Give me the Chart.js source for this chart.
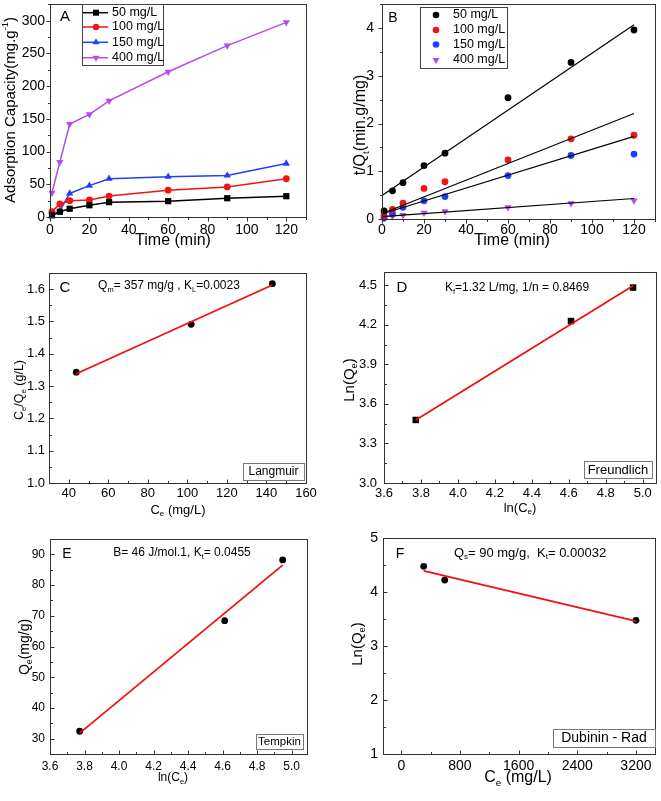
<!DOCTYPE html>
<html>
<head>
<meta charset="utf-8">
<script src="https://cdn.jsdelivr.net/npm/chart.js@4.4.1/dist/chart.umd.min.js"></script>
<style>
  html, body { margin: 0; padding: 0; background: #fff; }
  #fig { position: relative; width: 661px; height: 801px; overflow: hidden; }
  #fig canvas { position: absolute; }
</style>
</head>
<body>
<div id="fig"></div>
<script>
// ---- data ----
// A / B : kinetics
const timeMin = [1, 5, 10, 20, 30, 60, 90, 120];
const seriesNames = ['50 mg/L', '100 mg/L', '150 mg/L', '400 mg/L'];
const qt50  = [3, 8, 12.6, 18, 22.7, 24.2, 28.7, 31.8];
const qt100 = [8, 20, 25, 26, 32, 41, 46, 58.5];
const qt150 = [1, 9.6, 36, 48, 58.5, 61.5, 63.5, 81.7];
const qt400 = [37, 84, 142, 157, 177.5, 222, 262, 297.5];

const tq50  = [0.17, 0.59, 0.76, 1.12, 1.38, 2.54, 3.28, 3.96];
const tq100 = [0.08, 0.2, 0.33, 0.64, 0.78, 1.24, 1.68, 1.755];
const tq150 = [0.02, 0.11, 0.245, 0.38, 0.47, 0.91, 1.33, 1.36];
const tq400 = [0.02, 0.055, 0.08, 0.13, 0.16, 0.245, 0.33, 0.385];
const fitT0 = [0, 120];
const fitT1 = [1, 120];
const fit50  = [0.49, 4.07];
const fit100 = [0.13, 2.21];
const fit150 = [0.12, 1.73];
const fit400 = [0.05, 0.43];

// C : Langmuir
const langCe = [43.8, 101.9, 143];
const langRatio = [1.343, 1.491, 1.617];
const langFitCe = [43.8, 143];
const langFit = [1.338, 1.613];
// D : Freundlich
const lnCe = [3.772, 4.612, 4.948];
const freLnQe = [3.478, 4.228, 4.482];
const freFitX = [3.772, 4.948];
const freFitY = [3.478, 4.495];
// E : Tempkin
const temQe = [32.4, 68.4, 88.2];
const temFitX = [3.772, 4.948];
const temFitY = [31.8, 86.5];
// F : Dubinin - Rad
const drCe = [305, 592, 3200];
const drLnQe = [4.475, 4.22, 3.475];
const drFitX = [305, 3200];
const drFitY = [4.39, 3.46];

// tick labels
const timeTicks = [0, 20, 40, 60, 80, 100, 120];
const aTicksY = [0, 50, 100, 150, 200, 250, 300];
const bTicksY = [0, 1, 2, 3, 4];
const cTicksX = [40, 60, 80, 100, 120, 140, 160];
const cTicksY = [1.0, 1.1, 1.2, 1.3, 1.4, 1.5, 1.6];
const lnTicksX = [3.6, 3.8, 4.0, 4.2, 4.4, 4.6, 4.8, 5.0];
const dTicksY = [3.0, 3.3, 3.6, 3.9, 4.2, 4.5];
const eTicksY = [30, 40, 50, 60, 70, 80, 90];
const fTicksX = [0, 800, 1600, 2400, 3200];
const fTicksY = [1, 2, 3, 4, 5];

// ---- styling ----
const FONT = "'Liberation Sans', Arial, sans-serif";
const kinColors = ['#000000', '#f01414', '#1f3fff', '#b44af0'];
const RED = '#f01010';

const pts = (xs, ys) => xs.map((x, i) => ({ x: x, y: ys[i] }));
const font = s => s + 'px ' + FONT;

function richWidth(ctx, parts, size) {
  let w = 0;
  parts.forEach(p => {
    const t = Array.isArray(p) ? p[0] : p, k = Array.isArray(p) ? p[1] : null;
    ctx.font = font(k ? size * 0.62 : size);
    w += ctx.measureText(t).width;
  });
  return w;
}

function drawRich(ctx, parts, size, x, y, rot) {
  ctx.save();
  ctx.translate(x, y);
  if (rot) ctx.rotate(-Math.PI / 2);
  ctx.textBaseline = 'middle';
  ctx.textAlign = 'left';
  ctx.fillStyle = '#000';
  let cx = -richWidth(ctx, parts, size) / 2;
  parts.forEach(p => {
    const t = Array.isArray(p) ? p[0] : p, k = Array.isArray(p) ? p[1] : null;
    ctx.font = font(k ? size * 0.62 : size);
    const dy = k === 'sub' ? size * 0.32 : (k === 'sup' ? -size * 0.36 : 0);
    ctx.fillText(t, cx, dy);
    cx += ctx.measureText(t).width;
  });
  ctx.restore();
}

function drawMarker(ctx, style, x, y, r, color) {
  ctx.fillStyle = color;
  ctx.beginPath();
  if (style === 'rect') {
    ctx.rect(x - r, y - r, 2 * r, 2 * r);
  } else if (style === 'tri' || style === 'triDown') {
    const s = style === 'tri' ? 1 : -1;
    ctx.moveTo(x, y - s * r);
    ctx.lineTo(x + r * 0.866, y + s * r * 0.5);
    ctx.lineTo(x - r * 0.866, y + s * r * 0.5);
    ctx.closePath();
  } else {
    ctx.arc(x, y, r, 0, Math.PI * 2);
  }
  ctx.fill();
}

// frame, ticks, titles, notes, boxes, legend
function makeDecor(cfg) {
  return {
    id: 'decor',
    afterDraw(chart) {
      const ctx = chart.ctx, a = chart.chartArea;
      const L = Math.round(a.left) + 0.5, R = Math.round(a.right) + 0.5;
      const T = Math.round(a.top) + 0.5, B = Math.round(a.bottom) + 0.5;
      ctx.save();
      ctx.strokeStyle = '#333';
      ctx.lineWidth = 1;
      ctx.strokeRect(L, T, R - L, B - T);
      const sgn = cfg.tickDir === 'out' ? 1 : -1;
      ['x', 'y'].forEach(id => {
        const sc = chart.scales[id];
        const majors = sc.ticks.map(t => t.value);
        const marks = majors.map(v => [v, 4]);
        const st = cfg.minor[id];
        for (let v = majors[0] - st; v >= sc.min - 1e-9; v -= st) marks.push([v, 2.5]);
        for (let v = majors[0] + st; v <= sc.max + 1e-9; v += st) {
          if (!majors.some(m => Math.abs(m - v) < st / 10)) marks.push([v, 2.5]);
        }
        ctx.beginPath();
        marks.forEach(m => {
          const p = Math.round(sc.getPixelForValue(m[0])) + 0.5;
          if (id === 'x') { ctx.moveTo(p, B); ctx.lineTo(p, B + sgn * m[1]); }
          else { ctx.moveTo(L, p); ctx.lineTo(L - sgn * m[1], p); }
        });
        ctx.stroke();
      });

      ctx.translate(-cfg.origin[0], -cfg.origin[1]);
      (cfg.texts || []).forEach(t => drawRich(ctx, t.parts, t.size, t.x, t.y, t.rot));

      if (cfg.box) {
        const b = cfg.box;
        ctx.fillStyle = '#fff';
        ctx.fillRect(b.x1, b.y1, b.x2 - b.x1, b.y2 - b.y1);
        ctx.strokeStyle = '#777';
        ctx.strokeRect(b.x1 + 0.5, b.y1 + 0.5, b.x2 - b.x1, b.y2 - b.y1);
        drawRich(ctx, [b.text], b.size, (b.x1 + b.x2) / 2, (b.y1 + b.y2) / 2 + 0.5, false);
      }

      if (cfg.legend) {
        const g = cfg.legend;
        ctx.fillStyle = '#fff';
        ctx.fillRect(g.x1, g.y1, g.x2 - g.x1, g.y2 - g.y1);
        ctx.strokeStyle = '#444';
        ctx.strokeRect(g.x1 + 0.5, g.y1 + 0.5, g.x2 - g.x1, g.y2 - g.y1);
        seriesNames.forEach((name, i) => {
          const y = g.rows[i];
          if (g.line) {
            ctx.strokeStyle = kinColors[i];
            ctx.lineWidth = 1.5;
            ctx.beginPath();
            ctx.moveTo(g.line[0], y);
            ctx.lineTo(g.line[1], y);
            ctx.stroke();
          }
          drawMarker(ctx, g.styles[i], g.mx, y, g.radii[i], kinColors[i]);
          ctx.fillStyle = '#000';
          ctx.font = font(g.size);
          ctx.textAlign = 'left';
          ctx.textBaseline = 'middle';
          ctx.fillText(name, g.tx, y);
        });
      }
      ctx.restore();
    }
  };
}

function axis(min, max, values, size, pad, dec) {
  return {
    type: 'linear', min: min, max: max,
    grid: { display: false, drawTicks: false },
    border: { display: false },
    afterBuildTicks: sc => { sc.ticks = values.map(v => ({ value: v })); },
    ticks: {
      font: { family: FONT, size: size }, color: '#000', padding: pad,
      autoSkip: false, maxRotation: 0,
      callback: v => dec == null ? String(v) : Number(v).toFixed(dec)
    }
  };
}

function panel(origin, size, plot, datasets, sx, sy, cfg) {
  const cv = document.createElement('canvas');
  cv.width = size[0];
  cv.height = size[1];
  cv.style.left = origin[0] + 'px';
  cv.style.top = origin[1] + 'px';
  document.getElementById('fig').appendChild(cv);
  const yw = plot[0] - origin[0];
  const xh = origin[1] + size[1] - plot[3];
  // fixed axis boxes, no label overhang, so the plot area lands where the figure has it
  sx.afterFit = s => { s.height = xh; s.paddingLeft = 0; s.paddingRight = 0; s.paddingTop = 0; s.paddingBottom = 0; };
  sy.afterFit = s => { s.width = yw; s.paddingLeft = 0; s.paddingRight = 0; s.paddingTop = 0; s.paddingBottom = 0; };
  cfg.origin = origin;
  return new Chart(cv, {
    type: 'scatter',
    data: { datasets: datasets },
    options: {
      responsive: false,
      animation: false,
      layout: { padding: { top: plot[1] - origin[1], right: origin[0] + size[0] - plot[2], left: 0, bottom: 0 } },
      plugins: { legend: { display: false }, tooltip: { enabled: false } },
      scales: { x: sx, y: sy }
    },
    plugins: [makeDecor(cfg)]
  });
}

function fitLine(xs, ys, color, w) {
  return { data: pts(xs, ys), showLine: true, borderColor: color, borderWidth: w, pointRadius: 0, clip: false };
}
function dots(xs, ys, color, style, r, rot) {
  return { data: pts(xs, ys), showLine: false, pointStyle: style, pointRadius: r, pointRotation: rot || 0,
           pointBackgroundColor: color, pointBorderWidth: 0, clip: false };
}

// ---- A ----
const kinA = [qt50, qt100, qt150, qt400];
const aStyles = ['rect', 'circle', 'triangle', 'triangle'];
const aRadius = [4.4, 3.4, 4.2, 4.2];
panel([0, 0], [330, 262], [50, 3, 306, 217],
  kinA.map((ys, i) => ({
    data: pts(timeMin, ys), showLine: true, borderColor: kinColors[i], borderWidth: 1.5,
    pointStyle: aStyles[i], pointRadius: aRadius[i], pointRotation: i === 3 ? 180 : 0,
    pointBackgroundColor: kinColors[i], pointBorderWidth: 0, clip: false
  })),
  axis(0, 130, timeTicks, 14, 5), axis(0, 325, aTicksY, 14, 5),
  {
    tickDir: 'out', minor: { x: 10, y: 25 },
    texts: [
      { parts: ['A'], size: 15, x: 65, y: 17 },
      { parts: ['Time (min)'], size: 16, x: 173, y: 241 },
      { parts: ['Adsorption Capacity(mg.g', ['-1', 'sup'], ')'], size: 15, x: 11, y: 110, rot: true }
    ],
    legend: { x1: 82, y1: 4, x2: 163, y2: 65, rows: [12.7, 27, 42.3, 57.7], line: [83, 108], mx: 96, tx: 112,
              size: 12.5, styles: ['rect', 'circle', 'tri', 'triDown'], radii: [3, 3.2, 4, 4] }
  });

// ---- B ----
const kinB = [tq50, tq100, tq150, tq400];
panel([330, 0], [331, 262], [382, 4, 655, 219],
  [
    fitLine(fitT0, fit50, '#000', 1.2), fitLine(fitT1, fit100, '#000', 1.2),
    fitLine(fitT1, fit150, '#000', 1.2), fitLine(fitT0, fit400, '#000', 1.2)
  ].concat(kinB.map((ys, i) => dots(timeMin, ys, kinColors[i], i === 3 ? 'triangle' : 'circle', i === 3 ? 4.2 : 3.4, i === 3 ? 180 : 0))),
  axis(0, 130, timeTicks, 14, 3), axis(0, 4.5, bTicksY, 14, 8),
  {
    tickDir: 'out', minor: { x: 10, y: 0.5 },
    texts: [
      { parts: ['B'], size: 14, x: 393, y: 18 },
      { parts: ['Time (min)'], size: 16, x: 512, y: 241 },
      { parts: ['t/Q', ['t', 'sub'], '(min.g/mg)'], size: 16, x: 361, y: 125, rot: true }
    ],
    legend: { x1: 420, y1: 7, x2: 507, y2: 68, rows: [15, 30, 44.5, 60], line: null, mx: 436, tx: 453,
              size: 12.5, styles: ['circle', 'circle', 'circle', 'triDown'], radii: [3.3, 3.3, 3.3, 4] }
  });

// ---- C ----
panel([0, 262], [330, 268], [49, 273, 306, 483],
  [fitLine(langFitCe, langFit, RED, 1.8), dots(langCe, langRatio, '#000', 'circle', 3.4)],
  axis(30, 160, cTicksX, 13, 3), axis(1.0, 1.65, cTicksY, 13, 4, 1),
  {
    tickDir: 'in', minor: { x: 10, y: 0.05 },
    texts: [
      { parts: ['C'], size: 15, x: 65, y: 288 },
      { parts: ['Q', ['m', 'sub'], '= 357 mg/g , K', ['L', 'sub'], '=0.0023'], size: 12, x: 169, y: 286 },
      { parts: ['C', ['e', 'sub'], ' (mg/L)'], size: 13, x: 178, y: 510 },
      { parts: ['C', ['e', 'sub'], '/Q', ['e', 'sub'], ' (g/L)'], size: 12.5, x: 20, y: 390, rot: true }
    ],
    box: { text: 'Langmuir', x1: 243, y1: 463, x2: 304, y2: 480, size: 12 }
  });

// ---- D ----
panel([330, 262], [331, 268], [384, 272, 656, 483],
  [fitLine(freFitX, freFitY, RED, 1.8), dots(lnCe, freLnQe, '#000', 'rect', 4.6)],
  axis(3.6, 5.072, lnTicksX, 13, 3, 1), axis(3.0, 4.6, dTicksY, 13, 7, 1),
  {
    tickDir: 'in', minor: { x: 0.1, y: 0.15 },
    texts: [
      { parts: ['D'], size: 15, x: 402, y: 288 },
      { parts: ['K', ['f', 'sub'], '=1.32 L/mg, 1/n = 0.8469'], size: 12, x: 517, y: 288 },
      { parts: ['ln(C', ['e', 'sub'], ')'], size: 13, x: 520, y: 508 },
      { parts: ['Ln(Q', ['e', 'sub'], ')'], size: 15, x: 350, y: 380, rot: true }
    ],
    box: { text: 'Freundlich', x1: 584, y1: 461, x2: 652, y2: 478, size: 13 }
  });

// ---- E ----
panel([0, 530], [330, 271], [50, 539, 307, 754],
  [fitLine(temFitX, temFitY, RED, 1.8), dots(lnCe, temQe, '#000', 'circle', 3.4)],
  axis(3.6, 5.089, lnTicksX, 12, 5, 1), axis(25, 95, eTicksY, 12, 5),
  {
    tickDir: 'in', minor: { x: 0.1, y: 5 },
    texts: [
      { parts: ['E'], size: 14, x: 67, y: 554 },
      { parts: ['B= 46 J/mol.1, K', ['t', 'sub'], '= 0.0455'], size: 12, x: 182, y: 553 },
      { parts: ['ln(C', ['e', 'sub'], ')'], size: 12, x: 173, y: 778 },
      { parts: ['Q', ['e', 'sub'], '(mg/g)'], size: 14, x: 25, y: 647, rot: true }
    ],
    box: { text: 'Tempkin', x1: 256, y1: 734, x2: 303, y2: 749, size: 11.5 }
  });

// ---- F ----
panel([330, 530], [331, 271], [383, 538, 655, 754],
  [fitLine(drFitX, drFitY, RED, 1.8), dots(drCe, drLnQe, '#000', 'circle', 3.4)],
  axis(-250, 3460, fTicksX, 14, 4), axis(1, 5, fTicksY, 14, 5),
  {
    tickDir: 'in', minor: { x: 400, y: 0.5 },
    texts: [
      { parts: ['F'], size: 14, x: 400, y: 554 },
      { parts: ['Q', ['s', 'sub'], '= 90 mg/g,  K', ['t', 'sub'], '= 0.00032'], size: 13, x: 530, y: 553 },
      { parts: ['C', ['e', 'sub'], ' (mg/L)'], size: 16, x: 518, y: 778 },
      { parts: ['Ln(Q', ['e', 'sub'], ')'], size: 15, x: 358, y: 644, rot: true }
    ],
    box: { text: 'Dubinin - Rad', x1: 553, y1: 729, x2: 655, y2: 747, size: 14 }
  });
</script>
</body>
</html>
